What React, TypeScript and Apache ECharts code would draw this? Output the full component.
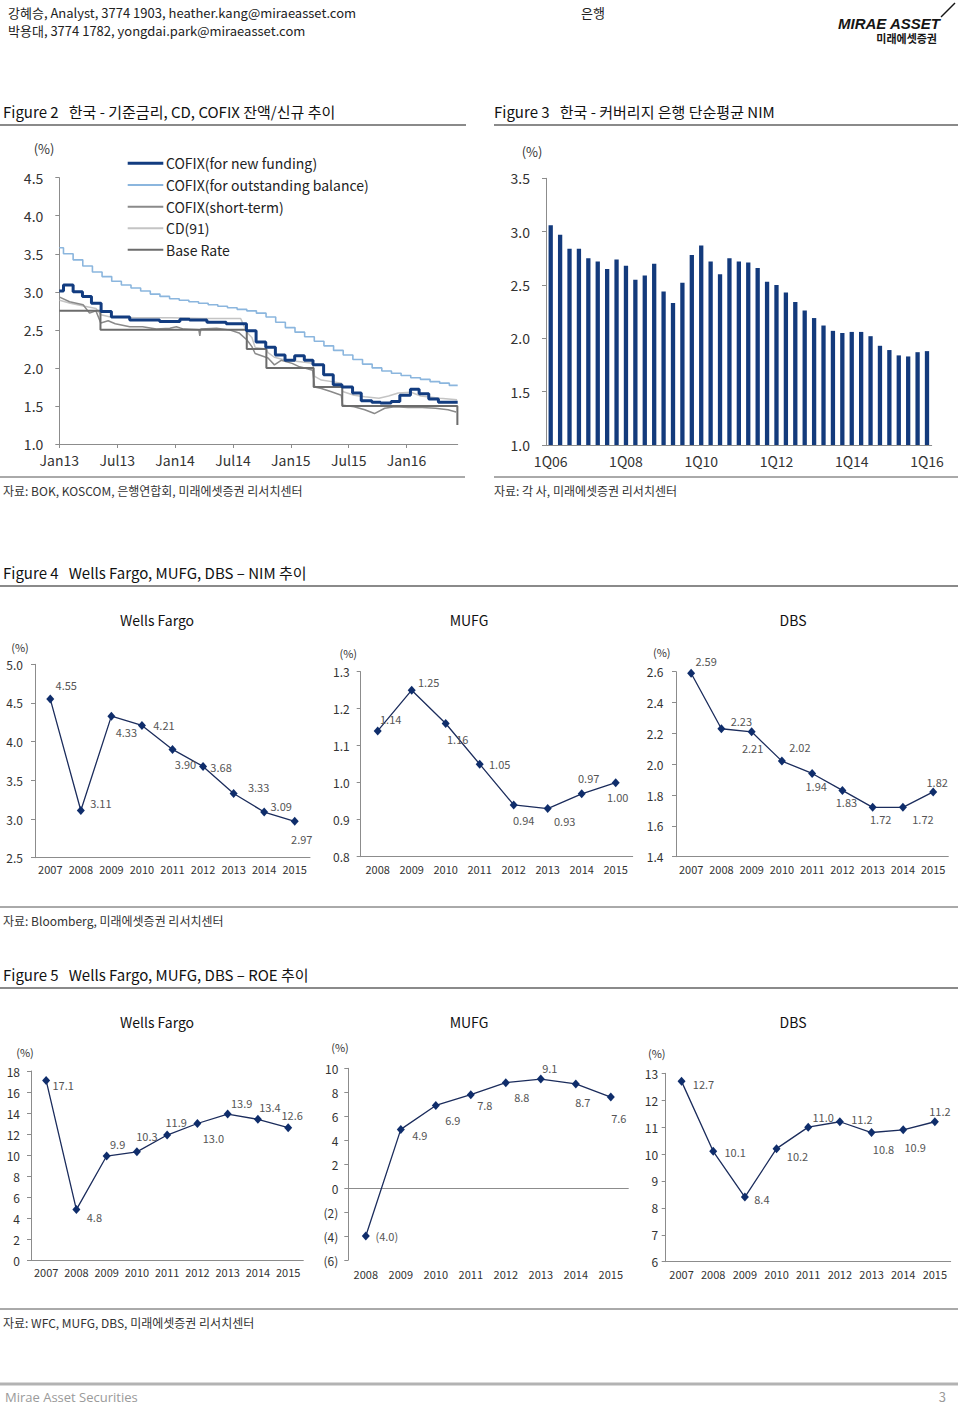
import React, { useEffect, useRef } from "react";
import * as echarts from "echarts";

const FONT = '"Noto Sans CJK KR", "Noto Sans", sans-serif';

// ---------- Figure 2 data (date, value) ----------
const fig2TickLabels = ["Jan13", "Jul13", "Jan14", "Jul14", "Jan15", "Jul15", "Jan16"];
const fig2AxisStart = "2013-01-01";
const fig2AxisEnd = "2016-06-10";
const fig2SeriesNames = ["COFIX(for new funding)", "COFIX(for outstanding balance)", "COFIX(short-term)", "CD(91)", "Base Rate"];

const cofixNewDates = ["2013-01-01", "2013-01-14", "2013-02-14", "2013-03-13", "2013-04-11", "2013-05-11", "2013-06-13", "2013-08-10", "2013-11-13", "2014-01-16", "2014-02-16", "2014-04-10", "2014-06-10", "2014-08-13", "2014-09-13", "2014-10-13", "2014-11-13", "2014-12-13", "2015-01-13", "2015-02-13", "2015-03-10", "2015-04-13", "2015-05-13", "2015-06-10", "2015-07-13", "2015-08-10", "2015-09-13", "2015-10-10", "2015-11-13", "2015-12-10", "2016-01-13", "2016-02-10", "2016-03-10", "2016-04-10", "2016-06-10"];
const cofixNewValues = [3.01, 3.09, 3.0, 2.94, 2.85, 2.74, 2.67, 2.63, 2.61, 2.64, 2.63, 2.6, 2.58, 2.49, 2.34, 2.27, 2.17, 2.1, 2.16, 2.1, 2.04, 1.91, 1.78, 1.75, 1.67, 1.57, 1.55, 1.54, 1.56, 1.64, 1.72, 1.66, 1.59, 1.55, 1.55];

const cofixBalDates = ["2013-01-01", "2013-01-14", "2013-02-14", "2013-03-14", "2013-04-14", "2013-05-14", "2013-06-14", "2013-07-14", "2013-08-14", "2013-09-14", "2013-10-14", "2013-11-14", "2013-12-14", "2014-01-14", "2014-02-14", "2014-03-14", "2014-04-14", "2014-05-14", "2014-06-14", "2014-07-14", "2014-08-14", "2014-09-14", "2014-10-14", "2014-11-14", "2014-12-14", "2015-01-14", "2015-02-14", "2015-03-14", "2015-04-14", "2015-05-14", "2015-06-14", "2015-07-14", "2015-08-14", "2015-09-14", "2015-10-14", "2015-11-14", "2015-12-14", "2016-01-14", "2016-02-14", "2016-03-14", "2016-04-14", "2016-05-14", "2016-06-10"];
const cofixBalValues = [3.58, 3.5, 3.42, 3.34, 3.26, 3.2, 3.14, 3.09, 3.05, 3.01, 2.97, 2.94, 2.91, 2.89, 2.87, 2.85, 2.83, 2.81, 2.79, 2.77, 2.75, 2.72, 2.67, 2.6, 2.53, 2.47, 2.41, 2.35, 2.29, 2.23, 2.17, 2.11, 2.05, 2.0, 1.96, 1.93, 1.9, 1.87, 1.85, 1.82, 1.8, 1.77, 1.77];

const cofixShortDates = ["2013-01-02", "2013-02-03", "2013-03-15", "2013-04-05", "2013-04-25", "2013-05-10", "2013-06-03", "2013-06-25", "2013-08-10", "2013-09-20", "2013-11-03", "2013-12-15", "2014-01-05", "2014-01-28", "2014-03-15", "2014-03-18", "2014-03-21", "2014-05-10", "2014-06-20", "2014-07-20", "2014-08-14", "2014-08-30", "2014-09-10", "2014-10-20", "2014-11-10", "2014-12-01", "2015-01-05", "2015-01-25", "2015-02-14", "2015-03-09", "2015-03-15", "2015-04-06", "2015-05-05", "2015-06-08", "2015-06-12", "2015-07-18", "2015-08-21", "2015-09-21", "2015-10-23", "2015-11-24", "2016-01-06", "2016-02-20", "2016-04-01", "2016-05-10", "2016-06-05"];
const cofixShortValues = [2.93, 2.87, 2.83, 2.72, 2.75, 2.59, 2.62, 2.58, 2.54, 2.54, 2.51, 2.52, 2.54, 2.51, 2.5, 2.42, 2.51, 2.52, 2.5, 2.46, 2.37, 2.28, 2.19, 2.13, 2.04, 2.1, 2.06, 2.02, 2.0, 1.97, 1.75, 1.73, 1.69, 1.64, 1.51, 1.49, 1.45, 1.4, 1.47, 1.49, 1.48, 1.48, 1.47, 1.45, 1.42];

const cd91Dates = ["2013-01-02", "2013-02-05", "2013-03-20", "2013-04-25", "2013-05-10", "2013-06-10", "2013-09-01", "2013-12-20", "2014-04-01", "2014-07-25", "2014-08-14", "2014-08-30", "2014-09-10", "2014-10-14", "2014-10-20", "2014-11-10", "2014-12-15", "2015-02-01", "2015-03-09", "2015-03-15", "2015-04-06", "2015-06-08", "2015-06-12", "2015-07-18", "2015-08-21", "2015-10-05", "2015-11-05", "2015-12-05", "2016-01-15", "2016-02-15", "2016-04-15", "2016-06-08"];
const cd91Values = [2.89, 2.85, 2.81, 2.78, 2.7, 2.67, 2.66, 2.66, 2.65, 2.65, 2.47, 2.4, 2.27, 2.25, 2.2, 2.14, 2.1, 2.08, 2.06, 1.89, 1.84, 1.8, 1.69, 1.64, 1.62, 1.6, 1.63, 1.67, 1.68, 1.63, 1.6, 1.58];

const baseRateDates = ["2013-01-01", "2013-05-09", "2014-08-14", "2014-10-15", "2015-03-12", "2015-06-11", "2016-06-09", "2016-06-10"];
const baseRateValues = [2.75, 2.5, 2.25, 2.0, 1.75, 1.5, 1.25, 1.25];

// ---------- Figure 3 data ----------
const fig3Years = [2006, 2007, 2008, 2009, 2010, 2011, 2012, 2013, 2014, 2015, 2016];
const fig3Nim = [3.06, 2.97, 2.84, 2.84, 2.75, 2.72, 2.65, 2.74, 2.68, 2.55, 2.59, 2.7, 2.44, 2.33, 2.52, 2.78, 2.87, 2.72, 2.6, 2.75, 2.72, 2.71, 2.66, 2.53, 2.5, 2.43, 2.34, 2.26, 2.19, 2.12, 2.07, 2.05, 2.06, 2.06, 2.02, 1.93, 1.89, 1.84, 1.83, 1.87, 1.88];

// ---------- Figure 4 / 5 data ----------
const years0715 = ["2007", "2008", "2009", "2010", "2011", "2012", "2013", "2014", "2015"];
const years0815 = ["2008", "2009", "2010", "2011", "2012", "2013", "2014", "2015"];
const wfNim = [4.55, 3.11, 4.33, 4.21, 3.9, 3.68, 3.33, 3.09, 2.97];
const mufgNim = [1.14, 1.25, 1.16, 1.05, 0.94, 0.93, 0.97, 1.0];
const dbsNim = [2.59, 2.23, 2.21, 2.02, 1.94, 1.83, 1.72, 1.72, 1.82];
const wfRoe = [17.1, 4.8, 9.9, 10.3, 11.9, 13.0, 13.9, 13.4, 12.6];
const mufgRoe = [-4.0, 4.9, 6.9, 7.8, 8.8, 9.1, 8.7, 7.6];
const dbsRoe = [12.7, 10.1, 8.4, 10.2, 11.0, 11.2, 10.8, 10.9, 11.2];

// label offsets (style, not data)
const wfNimOff = [[16, -14], [20, -8], [15, 16], [22, 0], [13, 15], [18, 1], [25, -6], [17, -6], [7, 18]];
const mufgNimOff = [[13, -12], [17, -8], [12, 15], [20, 0], [10, 15], [17, 12], [7, -16], [2, 14]];
const dbsNimOff = [[15, -12], [20, -8], [1, 16], [18, -14], [4, 13], [4, 12], [8, 12], [20, 12], [4, -10]];
const wfRoeOff = [[17, 5], [18, 7], [11, -12], [10, -16], [9, -13], [16, 14], [14, -11], [12, -12], [4, -13]];
const mufgRoeOff = [[21, 0], [19, 6], [17, 15], [14, 10], [16, 14], [9, -11], [7, 18], [8, 21]];
const dbsRoeOff = [[22, 3], [22, 1], [17, 2], [21, 7], [15, -10], [22, -3], [12, 16], [12, 17], [5, -11]];

function monthIndex(d: string): number {
  const [y, m, day] = d.split("-").map(Number);
  return (y - 2013) * 12 + (m - 1) + (day - 1) / 30;
}
function pairs(dates: string[], vals: number[]) {
  return dates.map((d, i) => [monthIndex(d), vals[i]]);
}

const AX = "#8c8c8c";
const C_NEW = "#123c80";
const C_BAL = "#8bb6de";
const C_SHORT = "#8a8a8a";
const C_CD = "#c4c4c4";
const C_BASE = "#6c6c6c";

function buildOption() {
  const grids: any[] = [];
  const xAxes: any[] = [];
  const yAxes: any[] = [];
  const series: any[] = [];

  // ---- Fig 2 ----
  grids.push({ left: 59.3, top: 177.7, width: 398.4, height: 266.3 });
  xAxes.push({
    type: "value", gridIndex: 0, min: 0, max: monthIndex(fig2AxisEnd) - monthIndex(fig2AxisStart), interval: 6,
    axisLine: { lineStyle: { color: AX } }, axisTick: { show: true, length: 4, lineStyle: { color: AX } },
    splitLine: { show: false },
    axisLabel: {
      color: "#333", fontSize: 14, fontFamily: FONT, margin: 9, showMaxLabel: false,
      formatter: (v: number) => {
        const i = Math.round(v / 6);
        return Math.abs(v - i * 6) < 1e-6 && i < fig2TickLabels.length ? fig2TickLabels[i] : "";
      },
    },
  });
  yAxes.push({
    type: "value", gridIndex: 0, min: 1.0, max: 4.5, interval: 0.5,
    axisLine: { show: true, lineStyle: { color: AX } }, axisTick: { show: true, length: 4, lineStyle: { color: AX } },
    splitLine: { show: false },
    axisLabel: { color: "#333", fontSize: 14, fontFamily: FONT, margin: 16, formatter: (v: number) => v.toFixed(1) },
  });
  const lineBase = { xAxisIndex: 0, yAxisIndex: 0, type: "line", symbol: "none", showSymbol: false, silent: true };
  series.push({ ...lineBase, name: fig2SeriesNames[3], data: pairs(cd91Dates, cd91Values), lineStyle: { color: C_CD, width: 1.5 } });
  series.push({ ...lineBase, name: fig2SeriesNames[2], data: pairs(cofixShortDates, cofixShortValues), lineStyle: { color: C_SHORT, width: 1.5 } });
  series.push({ ...lineBase, name: fig2SeriesNames[4], step: "end", data: pairs(baseRateDates, baseRateValues), lineStyle: { color: C_BASE, width: 2 } });
  series.push({ ...lineBase, name: fig2SeriesNames[1], step: "end", data: pairs(cofixBalDates, cofixBalValues), lineStyle: { color: C_BAL, width: 1.6 } });
  series.push({ ...lineBase, name: fig2SeriesNames[0], step: "end", data: pairs(cofixNewDates, cofixNewValues), lineStyle: { color: C_NEW, width: 3 } });

  // ---- Fig 3 ----
  const fig3Cats: string[] = [];
  fig3Years.forEach((y) => {
    for (let q = 1; q <= 4; q++) {
      if (fig3Cats.length < fig3Nim.length) fig3Cats.push(`${q}Q${String(y).slice(2)}`);
    }
  });
  grids.push({ left: 546, top: 178.3, width: 385.7, height: 266.7 });
  xAxes.push({
    type: "category", gridIndex: 1, data: fig3Cats,
    axisLine: { lineStyle: { color: AX } }, axisTick: { show: false },
    axisLabel: { color: "#333", fontSize: 14, fontFamily: FONT, margin: 9, interval: 7 },
  });
  yAxes.push({
    type: "value", gridIndex: 1, min: 1.0, max: 3.5, interval: 0.5,
    axisLine: { show: true, lineStyle: { color: AX } }, axisTick: { show: true, length: 4, lineStyle: { color: AX } },
    splitLine: { show: false },
    axisLabel: { color: "#333", fontSize: 14, fontFamily: FONT, margin: 16, formatter: (v: number) => v.toFixed(1) },
  });
  series.push({ type: "bar", xAxisIndex: 1, yAxisIndex: 1, data: fig3Nim, barWidth: 4.3, itemStyle: { color: "#133a7c" }, silent: true });

  // ---- small charts ----
  type Small = {
    g: { left: number; top: number; width: number; height: number };
    cats: string[]; vals: number[]; off: number[][];
    min: number; max: number; interval: number; yMargin: number; xMargin: number;
    dec: number; zeroAxis?: boolean;
  };
  const fmtVal = (v: number, dec: number) => (v < 0 ? `(${Math.abs(v).toFixed(dec)})` : v.toFixed(dec));
  const xLabel = (margin: number) => ({ color: "#333", fontSize: 11, fontFamily: FONT, margin, interval: 0, hideOverlap: false });
  const addSmall = (s: Small, yDec: number) => {
    const gi = grids.length;
    grids.push(s.g);
    const xi = xAxes.length;
    if (s.zeroAxis) {
      xAxes.push({
        type: "category", gridIndex: gi, data: s.cats, position: "bottom",
        axisLine: { onZero: true, lineStyle: { color: AX } }, axisTick: { length: 4, lineStyle: { color: AX } },
        axisLabel: { show: false },
      });
      xAxes.push({
        type: "category", gridIndex: gi, data: s.cats, position: "bottom",
        axisLine: { show: false, onZero: false }, axisTick: { show: false },
        axisLabel: xLabel(s.xMargin),
      });
    } else {
      xAxes.push({
        type: "category", gridIndex: gi, data: s.cats,
        axisLine: { lineStyle: { color: AX } }, axisTick: { length: 4, lineStyle: { color: AX } },
        axisLabel: xLabel(s.xMargin),
      });
    }
    const yi = yAxes.length;
    yAxes.push({
      type: "value", gridIndex: gi, min: s.min, max: s.max, interval: s.interval,
      axisLine: { show: true, lineStyle: { color: AX } }, axisTick: { show: true, length: 4, lineStyle: { color: AX } },
      splitLine: { show: false },
      axisLabel: { color: "#333", fontSize: 12, fontFamily: FONT, margin: s.yMargin, formatter: (v: number) => fmtVal(v, yDec) },
    });
    series.push({
      type: "line", xAxisIndex: xi, yAxisIndex: yi, silent: true,
      symbol: "diamond", symbolSize: [8, 9],
      lineStyle: { color: "#1b2c5c", width: 1.3 }, itemStyle: { color: "#0f2d6b" },
      data: s.vals.map((v, i) => ({ value: v, label: { offset: s.off[i] } })),
      label: {
        show: true, position: "inside", color: "#555", fontSize: 11, fontFamily: FONT,
        formatter: (p: any) => fmtVal(p.value, s.dec),
      },
    });
  };

  addSmall({ g: { left: 35, top: 664.3, width: 275, height: 193.4 }, cats: years0715, vals: wfNim, off: wfNimOff, min: 2.5, max: 5.0, interval: 0.5, yMargin: 12, xMargin: 6, dec: 2 }, 1);
  addSmall({ g: { left: 360.7, top: 671.7, width: 272, height: 185 }, cats: years0815, vals: mufgNim, off: mufgNimOff, min: 0.8, max: 1.3, interval: 0.1, yMargin: 11, xMargin: 7, dec: 2 }, 1);
  addSmall({ g: { left: 676, top: 671.7, width: 272.3, height: 185 }, cats: years0715, vals: dbsNim, off: dbsNimOff, min: 1.4, max: 2.6, interval: 0.2, yMargin: 12.5, xMargin: 6.5, dec: 2 }, 1);
  addSmall({ g: { left: 31, top: 1071, width: 272.3, height: 189 }, cats: years0715, vals: wfRoe, off: wfRoeOff, min: 0, max: 18, interval: 2, yMargin: 11, xMargin: 6.5, dec: 1 }, 0);
  addSmall({ g: { left: 348.3, top: 1068.3, width: 280, height: 191.7 }, cats: years0815, vals: mufgRoe, off: mufgRoeOff, min: -6, max: 10, interval: 2, yMargin: 10, xMargin: 8, dec: 1, zeroAxis: true }, 0);
  addSmall({ g: { left: 665.7, top: 1073.3, width: 285, height: 188.4 }, cats: years0715, vals: dbsRoe, off: dbsRoeOff, min: 6, max: 13, interval: 1, yMargin: 7.5, xMargin: 6.5, dec: 1 }, 0);

  // ---- graphics ----
  const txt = (x: number, y: number, text: string, size: number, opts: any = {}) => ({
    type: "text", x, y, silent: true,
    style: {
      text, fill: opts.fill || "#222", font: `${opts.weight || "normal"} ${size}px ${opts.family || FONT}`,
      align: opts.align || "left", verticalAlign: "middle",
    },
  });
  const ln = (x1: number, y1: number, x2: number, y2: number, stroke: string, w: number) => ({
    type: "line", silent: true, shape: { x1, y1, x2, y2 }, style: { stroke, lineWidth: w },
  });

  // Figure 2 legend (drawn manually: line + label)
  const legendColors = [C_NEW, C_BAL, C_SHORT, C_CD, C_BASE];
  const legendWidths = [3, 2, 2, 2, 2];
  const legendRows = [163.3, 185, 206.7, 228.3, 249.8];
  const legend: any[] = [];
  fig2SeriesNames.forEach((n, i) => {
    legend.push(ln(127.7, legendRows[i], 163.3, legendRows[i], legendColors[i], legendWidths[i]));
    legend.push(txt(166, legendRows[i], n, 14, { fill: "#222" }));
  });

  const graphic: any[] = [
    txt(8, 12, "강혜승, Analyst, 3774 1903, heather.kang@miraeasset.com", 13),
    txt(8, 30, "박용대, 3774 1782, yongdai.park@miraeasset.com", 13),
    txt(593, 12, "은행", 13, { align: "center" }),
    txt(940, 23, "MIRAE ASSET", 15, { weight: "bold italic", family: '"Liberation Sans", Arial, sans-serif', fill: "#151515", align: "right" }),
    txt(937, 38, "미래에셋증권", 11, { weight: "bold", fill: "#151515", align: "right" }),
    ln(941, 17, 955, 3, "#151515", 1.5),

    txt(3, 111, "Figure 2   한국 - 기준금리, CD, COFIX 잔액/신규 추이", 15, { fill: "#111" }),
    ln(0, 125, 466, 125, "#8a8a8a", 2),
    txt(494, 111, "Figure 3   한국 - 커버리지 은행 단순평균 NIM", 15, { fill: "#111" }),
    ln(494, 125, 958, 125, "#8a8a8a", 2),
    txt(44, 148, "(%)", 13, { align: "center", fill: "#333" }),
    txt(532, 151.5, "(%)", 13, { align: "center", fill: "#333" }),
    ...legend,
    ln(0, 477, 465, 477, "#555", 1),
    ln(494, 477, 958, 477, "#555", 1),
    txt(3, 490, "자료: BOK, KOSCOM, 은행연합회, 미래에셋증권 리서치센터", 12, { fill: "#333" }),
    txt(494, 490, "자료: 각 사, 미래에셋증권 리서치센터", 12, { fill: "#333" }),

    txt(3, 572, "Figure 4   Wells Fargo, MUFG, DBS – NIM 추이", 15, { fill: "#111" }),
    ln(0, 586, 958, 586, "#8a8a8a", 2),
    txt(157, 620, "Wells Fargo", 14, { align: "center", fill: "#111" }),
    txt(469, 620, "MUFG", 14, { align: "center", fill: "#111" }),
    txt(793, 620, "DBS", 14, { align: "center", fill: "#111" }),
    txt(20, 646.5, "(%)", 11, { align: "center", fill: "#333" }),
    txt(348.3, 653.3, "(%)", 11, { align: "center", fill: "#333" }),
    txt(661.7, 651.7, "(%)", 11, { align: "center", fill: "#333" }),
    ln(0, 907, 958, 907, "#555", 1),
    txt(3, 920, "자료: Bloomberg, 미래에셋증권 리서치센터", 12, { fill: "#333" }),

    txt(3, 974, "Figure 5   Wells Fargo, MUFG, DBS – ROE 추이", 15, { fill: "#111" }),
    ln(0, 988, 958, 988, "#8a8a8a", 2),
    txt(157, 1022, "Wells Fargo", 14, { align: "center", fill: "#111" }),
    txt(469, 1022, "MUFG", 14, { align: "center", fill: "#111" }),
    txt(793, 1022, "DBS", 14, { align: "center", fill: "#111" }),
    txt(25, 1051.7, "(%)", 11, { align: "center", fill: "#333" }),
    txt(340, 1047, "(%)", 11, { align: "center", fill: "#333" }),
    txt(656.7, 1053, "(%)", 11, { align: "center", fill: "#333" }),
    ln(0, 1309, 958, 1309, "#555", 1),
    txt(3, 1322, "자료: WFC, MUFG, DBS, 미래에셋증권 리서치센터", 12, { fill: "#333" }),

    ln(0, 1384, 958, 1384, "#b3b3b3", 3),
    txt(5, 1397, "Mirae Asset Securities", 13, { fill: "#9a9a9a", family: '"Open Sans", "Noto Sans", sans-serif' }),
    txt(946, 1396, "3", 13, { fill: "#9a9a9a", align: "right" }),
  ];

  return {
    animation: false,
    backgroundColor: "#ffffff",
    textStyle: { fontFamily: FONT },
    grid: grids,
    xAxis: xAxes,
    yAxis: yAxes,
    series,
    graphic,
  };
}

export default function App() {
  const ref = useRef<HTMLDivElement>(null);
  useEffect(() => {
    if (!ref.current) return;
    const chart = echarts.init(ref.current, null, { renderer: "svg" });
    chart.setOption(buildOption() as any);
    return () => chart.dispose();
  }, []);
  return (
    <div
      ref={ref}
      style={{ position: "absolute", left: 0, top: 0, width: 960, height: 1406, background: "#fff" }}
    />
  );
}
